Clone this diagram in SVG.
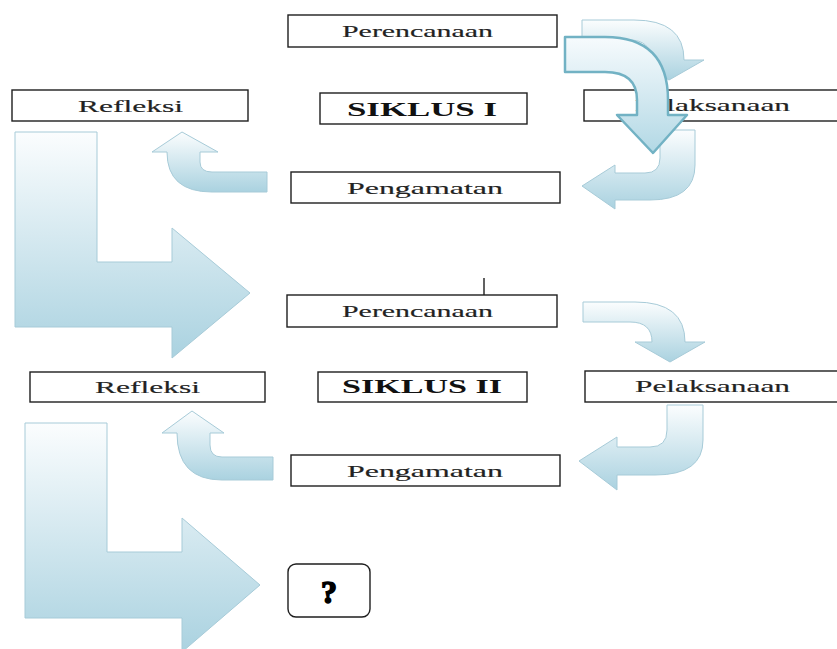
<svg xmlns="http://www.w3.org/2000/svg" width="837" height="649" viewBox="0 0 837 649">
<style>
.box{fill:#fff;stroke:#1e1e1e;stroke-width:1.4}
.lbl{font-family:"Liberation Serif","Times New Roman",serif;font-size:17px;fill:#222;stroke:#222;stroke-width:0.15}
.sik{font-family:"Liberation Serif","Times New Roman",serif;font-size:19px;font-weight:bold;fill:#111}
.arr{fill:url(#g);stroke:#a7cbd8;stroke-width:1}
.front{fill:url(#g2);stroke:#72b2c4;stroke-width:2.5;stroke-linejoin:round}
</style>
<defs>
<linearGradient id="g" x1="0" y1="0" x2="0" y2="1">
<stop offset="0" stop-color="#fbfdfe"/>
<stop offset="1" stop-color="#aad2e0"/>
</linearGradient>
<linearGradient id="g2" x1="0" y1="0" x2="0" y2="1">
<stop offset="0" stop-color="#f7fbfd"/>
<stop offset="1" stop-color="#b2d8e5"/>
</linearGradient>
</defs>
<rect width="837" height="649" fill="#fff"/>

<g id="connectors">
<path class="arr" d="M15,132 L97,132 L97,262 L172,262 L172,228 L250,293 L172,358 L172,327 L15,327 Z"/>
<path class="arr" d="M25,423 L107,423 L107,552 L182,552 L182,518 L260,585 L182,652 L182,618 L25,618 Z"/>
<path class="arr" d="M182,132 L218,152 L200,152 L200,162 Q200,172 212,172 L267,172 L267,192 L212,192 Q167,192 167,152 L152,152 Z"/>
<path class="arr" d="M192,411 L224,433 L210,433 L210,445 Q210,457 222,457 L273,457 L273,480 L222,480 Q177,480 177,433 L162,433 Z"/>
<path class="arr" d="M582,20 L634,20 Q684,20 684,60 L704,60 L669,80 L634,60 L651,60 Q651,40 629,40 L582,40 Z"/>
<path class="arr" d="M583,302 L635,302 Q685,302 685,342 L705,342 L670,362 L635,342 L652,342 Q652,322 630,322 L583,322 Z"/>
<path class="arr" d="M660,130 L695,130 L695,165 Q695,200 650,200 L615,200 L615,209 L582,186 L615,165 L615,173 L645,173 Q660,173 660,158 Z"/>
<path class="arr" d="M667,405 L703,405 L703,440 Q703,475 655,475 L617,475 L617,490 L579,461 L617,437 L617,447 L650,447 Q667,447 667,430 Z"/>
<line x1="484" y1="278" x2="484" y2="295" stroke="#1e1e1e" stroke-width="1.4"/>
</g>

<g id="perencanaan1"><rect class="box" x="288" y="15" width="269" height="32"/><text class="lbl" x="342" y="37" textLength="151" lengthAdjust="spacingAndGlyphs">Perencanaan</text></g>
<g id="refleksi1"><rect class="box" x="12" y="90" width="236" height="31"/><text class="lbl" x="78" y="112" textLength="105" lengthAdjust="spacingAndGlyphs">Refleksi</text></g>
<g id="siklus1"><rect class="box" x="320" y="93" width="207" height="31"/><text class="sik" x="347" y="116" textLength="150" lengthAdjust="spacingAndGlyphs">SIKLUS I</text></g>
<g id="pelaksanaan1"><rect class="box" x="584" y="90" width="270" height="31"/><text class="lbl" x="635" y="111" textLength="155" lengthAdjust="spacingAndGlyphs">Pelaksanaan</text></g>
<g id="pengamatan1"><rect class="box" x="291" y="172" width="269" height="31"/><text class="lbl" x="347" y="194" textLength="156" lengthAdjust="spacingAndGlyphs">Pengamatan</text></g>

<g id="perencanaan2"><rect class="box" x="287" y="295" width="270" height="32"/><text class="lbl" x="342" y="317" textLength="151" lengthAdjust="spacingAndGlyphs">Perencanaan</text></g>
<g id="refleksi2"><rect class="box" x="30" y="372" width="235" height="30"/><text class="lbl" x="95" y="393" textLength="105" lengthAdjust="spacingAndGlyphs">Refleksi</text></g>
<g id="siklus2"><rect class="box" x="318" y="372" width="209" height="30"/><text class="sik" x="342" y="393" textLength="160" lengthAdjust="spacingAndGlyphs">SIKLUS II</text></g>
<g id="pelaksanaan2"><rect class="box" x="585" y="371" width="270" height="31"/><text class="lbl" x="635" y="392" textLength="155" lengthAdjust="spacingAndGlyphs">Pelaksanaan</text></g>
<g id="pengamatan2"><rect class="box" x="291" y="455" width="269" height="31"/><text class="lbl" x="347" y="477" textLength="156" lengthAdjust="spacingAndGlyphs">Pengamatan</text></g>

<g id="question"><rect class="box" x="288" y="564" width="82" height="53" rx="8"/><text x="329" y="603" text-anchor="middle" font-family="'Liberation Serif','Times New Roman',serif" font-size="32" font-weight="bold" fill="#000" stroke="#000" stroke-width="1.6">?</text></g>

<g id="front-arrow">
<path class="front" d="M565,37 L605,37 Q668,37 668,100 L668,115 L687,115 L653,153 L617,115 L637,115 L637,100 Q637,72 605,72 L565,72 Z"/>
</g>
</svg>
